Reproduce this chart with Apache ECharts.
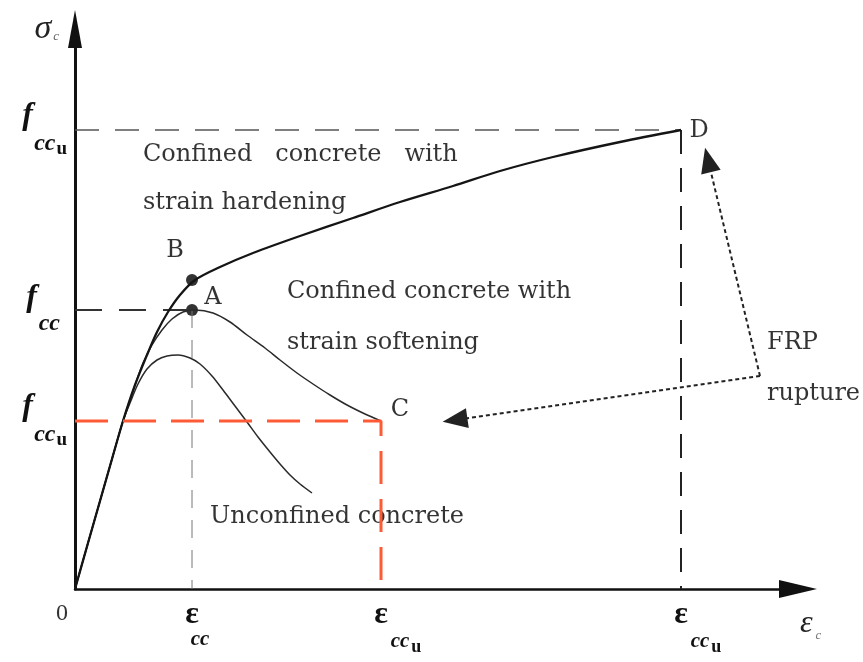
<!DOCTYPE html>
<html><head><meta charset="utf-8">
<script src="https://cdn.jsdelivr.net/npm/echarts@6/dist/echarts.min.js"></script>
<style>html,body{margin:0;padding:0;background:#fff}#c{width:863px;height:662px}</style>
</head><body><div id="c"></div>
<script>
// ---- key levels (schematic units) ----
const epsCC = 117, epsCCuC = 306, epsCCuD = 606;
const fCCuC = 168, fCC = 279, fB = 309, fCCuD = 459;

// ---- tick labels ----
const xTickValues = [0, epsCC, epsCCuC, epsCCuD];
const xTickMain = ['0', 'ε', 'ε', 'ε'];
const xTickSub = ['', 'cc', 'cc', 'cc'];
const xTickSubSub = ['', '', 'u', 'u'];
const yTickValues = [fCCuC, fCC, fCCuD];
const yTickMain = ['f', 'f', 'f'];
const yTickSub = ['cc', 'cc', 'cc'];
const yTickSubSub = ['u', '', 'u'];

// ---- curves: [strain, stress] ----
const hardening = [[0,0],[13,46],[25,88],[37,130],[48,168],[60,204],[72,234],[82,257],[93,277],[105,294],[120,309],[145,322],[178,336],[225,353],[278,371],[325,387],[378,403],[425,418],[478,432],[545,447],[606,459]];
const softening = [[0,0],[13,46],[25,88],[37,130],[48,168],[60,204],[68,226],[77,244],[87,259],[97,270],[108,277],[120,279],[138,276],[155,267],[172,254],[190,241],[205,229],[222,216],[238,205],[255,194],[272,184],[290,175],[306,168]];
const unconfined = [[0,0],[13,46],[25,88],[37,130],[48,168],[55,186],[63,205],[72,220],[82,229],[92,233],[103,234],[115,231],[125,225],[137,213],[148,199],[160,183],[172,167],[183,152],[195,137],[205,125],[215,114],[225,105],[237,96]];

// ---- labelled points ----
const pointNames = ['A', 'B', 'C', 'D'];
const pointValues = [[epsCC, fCC], [epsCC, fB], [epsCCuC, fCCuC], [epsCCuD, fCCuD]];

// ---- annotations ----
const noteTexts = ['Confined   concrete   with', 'strain hardening', 'Confined concrete with', 'strain softening', 'Unconfined concrete', 'FRP', 'rupture'];
const noteAnchors = [[68,434],[68,386],[212,297],[212,246],[135,72],[692,246],[692,195]];
const arrowFrom = [685, 213];
const arrowTo = [[633, 429], [380, 169]];

const SERIF = "'Liberation Serif', 'DejaVu Serif', serif";
const TXT = "'DejaVu Serif', serif";
const ink = '#111';

const chart = echarts.init(document.getElementById('c'), null, {renderer: 'canvas'});

const labelOffsets = {A: [21, -12], B: [-17, -29], C: [19, -11], D: [18, 1]};

const option = {
  backgroundColor: '#fff',
  animation: false,
  grid: {left: 75, right: 65, top: 29, bottom: 73},
  xAxis: {
    type: 'value', min: 0, max: 723,
    splitLine: {show: false}, axisTick: {show: false},
    axisLine: {show: true, symbol: ['none', 'triangle'], symbolSize: [18, 38],
      lineStyle: {color: '#111', width: 2.5}},
    name: '{e|ε}{c|c}', nameLocation: 'end', nameGap: 2,
    nameTextStyle: {align: 'left', verticalAlign: 'top', padding: [16, 0, 0, 0],
      rich: {e: {fontFamily: SERIF, fontStyle: 'italic', fontSize: 32, color: '#222'},
             c: {fontFamily: SERIF, fontStyle: 'italic', fontSize: 13, color: '#777', padding: [24, 0, 0, 3]}}},
    axisLabel: {
      customValues: xTickValues, margin: 13,
      formatter: function (v) {
        const i = xTickValues.indexOf(v);
        if (i < 0) return '';
        if (!xTickSub[i]) return '{zero|' + xTickMain[i] + '}';
        const line2 = xTickSubSub[i] ? '{s2|' + xTickSub[i] + '}{u|' + xTickSubSub[i] + '}' : '{s|' + xTickSub[i] + '}';
        return '{e|' + xTickMain[i] + '}\n' + line2;
      },
      rich: {
        zero: {fontFamily: SERIF, fontSize: 24, color: '#333', padding: [0, 26, 0, 0]},
        e: {fontFamily: SERIF, fontWeight: 'bold', fontSize: 32, color: ink, lineHeight: 26},
        s: {fontFamily: SERIF, fontWeight: 'bold', fontStyle: 'italic', fontSize: 21, color: ink, padding: [0, 0, 0, 16], lineHeight: 24},
        s2: {fontFamily: SERIF, fontWeight: 'bold', fontStyle: 'italic', fontSize: 21, color: ink, padding: [0, 0, 0, 50], lineHeight: 24},
        u: {fontFamily: SERIF, fontWeight: 'bold', fontSize: 18, color: ink, padding: [10, 0, 0, 2]}
      }
    }
  },
  yAxis: {
    type: 'value', min: 0, max: 560,
    splitLine: {show: false}, axisTick: {show: false},
    axisLine: {show: true, symbol: ['none', 'triangle'], symbolSize: [14, 38],
      lineStyle: {color: '#111', width: 3}},
    name: '{s|σ}{c|c}', nameLocation: 'end', nameGap: 0,
    nameTextStyle: {align: 'right', verticalAlign: 'middle', padding: [0, 16, 0, 0],
      rich: {s: {fontFamily: SERIF, fontStyle: 'italic', fontSize: 34, color: '#222'},
             c: {fontFamily: SERIF, fontStyle: 'italic', fontSize: 13, color: '#666', padding: [16, 0, 0, 2]}}},
    axisLabel: {
      customValues: yTickValues, margin: 8,
      formatter: function (v) {
        const i = yTickValues.indexOf(v);
        if (i < 0) return '';
        if (yTickSubSub[i]) return '{f|' + yTickMain[i] + '}\n{s|' + yTickSub[i] + '}{u|' + yTickSubSub[i] + '}';
        return '{f2|' + yTickMain[i] + '}\n{s3|' + yTickSub[i] + '}';
      },
      rich: {
        f: {fontFamily: SERIF, fontWeight: 'bold', fontStyle: 'italic', fontSize: 32, color: ink, padding: [0, 34, 0, 0], lineHeight: 28, align: 'right'},
        f2: {fontFamily: SERIF, fontWeight: 'bold', fontStyle: 'italic', fontSize: 32, color: ink, padding: [0, 30, 0, 0], lineHeight: 28, align: 'right'},
        s: {fontFamily: SERIF, fontWeight: 'bold', fontStyle: 'italic', fontSize: 24, color: ink, lineHeight: 24},
        s3: {fontFamily: SERIF, fontWeight: 'bold', fontStyle: 'italic', fontSize: 24, color: ink, lineHeight: 24, padding: [0, 7, 0, 0], align: 'right'},
        u: {fontFamily: SERIF, fontWeight: 'bold', fontSize: 19, color: ink, padding: [10, 0, 0, 1]}
      }
    }
  },
  series: [
    {type: 'line', data: [[0, fCCuD], [epsCCuD, fCCuD]], symbol: 'none', silent: true,
      lineStyle: {color: '#555', width: 1.5, type: [24, 16]}},
    {type: 'line', data: [[epsCCuD, fCCuD], [epsCCuD, 0]], symbol: 'none', silent: true,
      lineStyle: {color: '#222', width: 2, type: [24, 14]}},
    {type: 'line', data: [[0, fCC], [epsCC, fCC]], symbol: 'none', silent: true,
      lineStyle: {color: '#333', width: 2, type: [27, 17]}},
    {type: 'line', data: [[epsCC, fCC], [epsCC, 0]], symbol: 'none', silent: true,
      lineStyle: {color: '#777', width: 1, type: [18, 12]}},
    {type: 'line', name: 'Unconfined', data: unconfined, symbol: 'none', smooth: 0.3,
      lineStyle: {color: '#2a2a2a', width: 1.5}},
    {type: 'line', name: 'Softening', data: softening, symbol: 'none', smooth: 0.3,
      lineStyle: {color: '#2a2a2a', width: 1.5}},
    {type: 'line', name: 'Hardening', data: hardening, symbol: 'none', smooth: 0.3,
      lineStyle: {color: '#151515', width: 2.3}},
    {type: 'line', data: [[0, fCCuC], [epsCCuC, fCCuC], [epsCCuC, 0]], symbol: 'none', silent: true,
      lineStyle: {color: '#ff5a36', width: 3, type: [33, 15]}},
    {type: 'scatter', clip: false, silent: true,
      data: pointValues.map(function (p, i) {
        const n = pointNames[i];
        return {value: p, symbolSize: (n === 'A' || n === 'B') ? 12 : 0,
          label: {show: true, formatter: n, position: 'inside', offset: labelOffsets[n],
            fontFamily: TXT, fontSize: 24, color: '#000'}};
      }),
      itemStyle: {color: '#000'}},
    {type: 'scatter', clip: false, silent: true, symbolSize: 0,
      data: noteAnchors.map(function (p, i) {
        return {value: p, label: {show: true, formatter: noteTexts[i], position: 'right', distance: 0,
          fontFamily: TXT, fontSize: 24, color: '#000'}};
      }),
      markLine: {silent: true, symbol: ['none', 'triangle'], symbolSize: [20, 25],
        label: {show: false},
        lineStyle: {color: '#222', width: 2, type: [4, 3]},
        data: arrowTo.map(function (t) { return [{coord: arrowFrom}, {coord: t}]; })}
    }
  ]
};
chart.setOption(option);
</script>
</body></html>
